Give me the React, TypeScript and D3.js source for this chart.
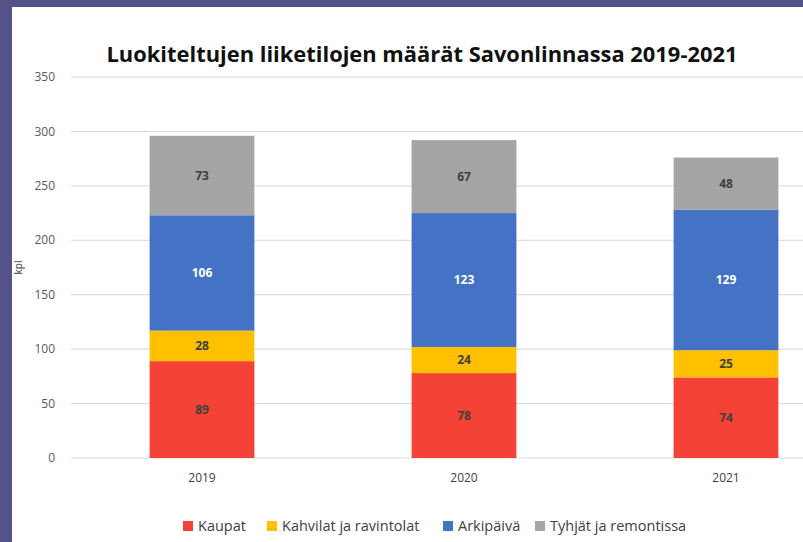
import React from "react";
import * as d3 from "d3";

const years = ["2019", "2020", "2021"];
const kaupat = [89, 78, 74];
const kahvilat = [28, 24, 25];
const arkipaiva = [106, 123, 129];
const tyhjat = [73, 67, 48];
const seriesNames = ["Kaupat", "Kahvilat ja ravintolat", "Arkipäivä", "Tyhjät ja remontissa"];
const seriesColors = ["#F44336", "#FFC000", "#4472C4", "#A5A5A5"];
const labelColors = ["#404040", "#404040", "#FFFFFF", "#404040"];
const yTicks = [0, 50, 100, 150, 200, 250, 300, 350];
const title = "Luokiteltujen liiketilojen määrät Savonlinnassa 2019-2021";

const W = 803;
const H = 542;
const FONT = "'Open Sans', 'Liberation Sans', sans-serif";

export default function App() {
  const rows = years.map((y, i) => ({
    year: y,
    s0: kaupat[i],
    s1: kahvilat[i],
    s2: arkipaiva[i],
    s3: tyhjat[i],
  }));
  const keys = ["s0", "s1", "s2", "s3"];
  const stack = d3.stack<any>().keys(keys)(rows);

  const y = d3.scaleLinear().domain([0, 350]).range([458, 77]);
  const x = d3
    .scaleBand()
    .domain(years)
    .range([71, 71 + 3 * 262])
    .paddingInner(0.6)
    .paddingOuter(0.3);

  const legendX = [183, 267, 443, 535];

  return (
    <svg
      width={W}
      height={H}
      style={{ position: "absolute", left: 0, top: 0, display: "block" }}
      fontFamily={FONT}
    >
      <rect x={0} y={0} width={W} height={H} fill="#55528A" />
      <rect x={12} y={7} width={W - 12} height={H - 7} fill="#FFFFFF" />
      <text
        x={422}
        y={62}
        textAnchor="middle"
        fontSize={20.5}
        fontWeight="bold"
        fill="#111"
        textLength={631}
        lengthAdjust="spacingAndGlyphs"
      >
        {title}
      </text>
      {yTicks.map((t) => (
        <g key={t}>
          <line x1={71} x2={W} y1={y(t)} y2={y(t)} stroke="#D9D9D9" strokeWidth={1} />
          <text
            x={55}
            y={y(t)}
            dy="0.35em"
            textAnchor="end"
            fontSize={12}
            fill="#595959"
          >
            {t}
          </text>
        </g>
      ))}
      <text
        transform={`translate(22,${y(175)}) rotate(-90)`}
        textAnchor="middle"
        fontSize={10}
        fill="#404040"
      >
        kpl
      </text>
      {stack.map((layer, si) => (
        <g key={si}>
          {layer.map((d, i) => {
            const x0 = x(years[i]) as number;
            const bw = x.bandwidth();
            const y0 = y(d[1]);
            const h = y(d[0]) - y(d[1]);
            return (
              <g key={i}>
                <rect x={x0} y={y0} width={bw} height={h} fill={seriesColors[si]} />
                <text
                  x={x0 + bw / 2}
                  y={y0 + h / 2}
                  dy="0.35em"
                  textAnchor="middle"
                  fontSize={12}
                  fontWeight="bold"
                  fill={labelColors[si]}
                >
                  {d[1] - d[0]}
                </text>
              </g>
            );
          })}
        </g>
      ))}
      {years.map((yr) => (
        <text
          key={yr}
          x={(x(yr) as number) + x.bandwidth() / 2}
          y={478}
          dy="0.35em"
          textAnchor="middle"
          fontSize={12}
          fill="#404040"
        >
          {yr}
        </text>
      ))}
      {seriesNames.map((n, i) => (
        <g key={n}>
          <rect x={legendX[i]} y={521} width={10} height={10} fill={seriesColors[i]} />
          <text x={legendX[i] + 15} y={526} dy="0.35em" fontSize={14.5} fill="#404040">
            {n}
          </text>
        </g>
      ))}
    </svg>
  );
}
